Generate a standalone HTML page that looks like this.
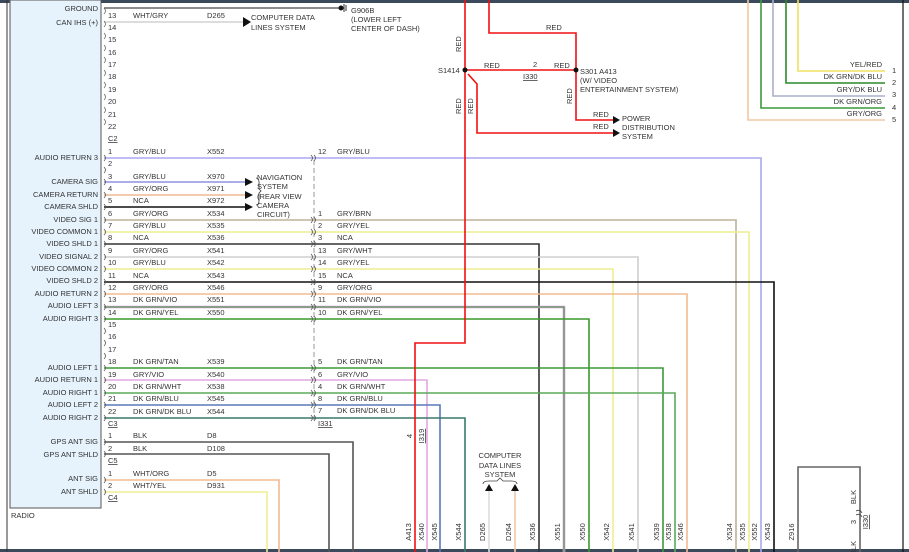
<!DOCTYPE html>
<html><head><meta charset="utf-8"><style>
html,body{margin:0;padding:0;background:#fff;}
svg{display:block;font-family:"Liberation Sans",sans-serif;}
text{font-size:7.5px;fill:#333;}
</style></head><body>
<svg width="909" height="552" viewBox="0 0 909 552" xmlns="http://www.w3.org/2000/svg">
<rect x="0" y="0" width="909" height="3" fill="#3b4a5a"/>
<rect x="0" y="549" width="909" height="3" fill="#3b4a5a"/>
<line x1="7" y1="0" x2="7" y2="552" stroke="#333" stroke-width="1"/>
<line x1="903" y1="0" x2="903" y2="552" stroke="#111" stroke-width="1.2"/>
<rect x="10" y="0" width="91" height="508" fill="#e6f3fc" stroke="#555" stroke-width="1"/>
<text x="11" y="518">RADIO</text>

<g text-anchor="end">
<text x="98" y="11">GROUND</text><text x="98" y="25">CAN IHS (+)</text>
<text x="98" y="160">AUDIO RETURN 3</text>
<text x="98" y="184">CAMERA SIG</text><text x="98" y="197">CAMERA RETURN</text><text x="98" y="209">CAMERA SHLD</text>
<text x="98" y="222">VIDEO SIG 1</text><text x="98" y="234">VIDEO COMMON 1</text><text x="98" y="246">VIDEO SHLD 1</text>
<text x="98" y="259">VIDEO SIGNAL 2</text><text x="98" y="271">VIDEO COMMON 2</text><text x="98" y="283">VIDEO SHLD 2</text>
<text x="98" y="296">AUDIO RETURN 2</text><text x="98" y="308">AUDIO LEFT 3</text><text x="98" y="321">AUDIO RIGHT 3</text>
<text x="98" y="370">AUDIO LEFT 1</text><text x="98" y="382">AUDIO RETURN 1</text><text x="98" y="395">AUDIO RIGHT 1</text>
<text x="98" y="407">AUDIO LEFT 2</text><text x="98" y="420">AUDIO RIGHT 2</text>
<text x="98" y="444">GPS ANT SIG</text><text x="98" y="457">GPS ANT SHLD</text>
<text x="98" y="481">ANT SIG</text><text x="98" y="494">ANT SHLD</text>
</g>

<!-- top C2 -->
<line x1="104" y1="8" x2="340" y2="8" stroke="#666" stroke-width="1.5"/>
<circle cx="341" cy="8" r="2.5" fill="#111"/>
<line x1="344" y1="4" x2="344" y2="12" stroke="#333"/><line x1="346" y1="5" x2="346" y2="11" stroke="#333"/>
<text x="351" y="13">G906B</text><text x="351" y="22">(LOWER LEFT</text><text x="351" y="31">CENTER OF DASH)</text>
<text x="108" y="18">13</text><text x="133" y="18">WHT/GRY</text><text x="207" y="18">D265</text>
<line x1="104" y1="22" x2="245" y2="22" stroke="#ddd" stroke-width="2"/>
<polygon points="243,17 251,22 243,27" fill="#111"/>
<text x="251" y="20">COMPUTER DATA</text><text x="251" y="30">LINES SYSTEM</text>
<g font-size="7.5"><text x="108" y="30">14</text><text x="108" y="42">15</text><text x="108" y="55">16</text><text x="108" y="67">17</text><text x="108" y="79">18</text><text x="108" y="92">19</text><text x="108" y="104">20</text><text x="108" y="117">21</text><text x="108" y="129">22</text></g>
<text x="108" y="141" text-decoration="underline">C2</text>
<g fill="none" stroke="#666" stroke-width="0.8">
<path d="M104,8 q3,3 0,6"/><path d="M104,21 q3,3 0,6"/><path d="M104,33 q3,3 0,6"/><path d="M104,45 q3,3 0,6"/><path d="M104,57 q3,3 0,6"/><path d="M104,70 q3,3 0,6"/><path d="M104,82 q3,3 0,6"/><path d="M104,94 q3,3 0,6"/><path d="M104,107 q3,3 0,6"/><path d="M104,119 q3,3 0,6"/>
</g>

<!-- dashed inline connector -->
<line x1="314" y1="160" x2="314" y2="420" stroke="#999" stroke-dasharray="5,3"/>

<!-- routed wires -->
<g fill="none" stroke-width="1.6">
<path d="M104,158 H761 V552" stroke="#a8a8f0"/>
<path d="M104,182 H245" stroke="#9090e0"/>
<path d="M104,195 H245" stroke="#f0b890"/>
<path d="M104,207 H245" stroke="#111"/>
<path d="M104,220 H736 V552" stroke="#bdb39a"/>
<path d="M104,232 H749 V552" stroke="#eeee90"/>
<path d="M104,244 H539 V552" stroke="#333"/>
<path d="M104,257 H638 V552" stroke="#cfcfcf"/>
<path d="M104,269 H613 V552" stroke="#eeee90"/>
<path d="M104,282 H774 V552" stroke="#111"/>
<path d="M104,294 H687 V552" stroke="#f2bb90"/>
<path d="M104,307 H564 V552" stroke="#d8a0d8" stroke-width="2.6"/>
<path d="M104,307 H564 V552" stroke="#3a9a3a" stroke-width="1"/>
<path d="M104,319 H589 V552" stroke="#3a9a2a"/>
<path d="M104,368 H663 V552" stroke="#3a9a3a"/>
<path d="M104,380 H427 V552" stroke="#e0a8e0"/>
<path d="M104,393 H675 V552" stroke="#5aaa5a"/>
<path d="M104,405 H440 V552" stroke="#5a7ab8"/>
<path d="M104,418 H465 V552" stroke="#3a7a6a"/>
<path d="M104,442 H353 V552" stroke="#555"/>
<path d="M104,454 H329 V552" stroke="#555"/>
<path d="M104,480 H279 V552" stroke="#f2bb90"/>
<path d="M104,492 H267 V552" stroke="#eeee90"/>
<path d="M798,552 V467 H860 V552" stroke="#666"/>
<path d="M489,552 V490" stroke="#ddd"/>
<path d="M515,552 V490" stroke="#f2c8a8"/>
</g>
<polygon points="185,178 193,182 185,186" fill="#111" transform="translate(60,0)"/>
<polygon points="245,191 253,195 245,199" fill="#111"/>
<polygon points="245,203 253,207 245,211" fill="#111"/>
<path d="M256,178 q3,0 3,4 v7 l2,2 l-2,2 v8 q0,4 -3,4" fill="none" stroke="#333" stroke-width="0.8"/>
<text x="257" y="180">NAVIGATION</text><text x="257" y="189">SYSTEM</text><text x="257" y="199">(REAR VIEW</text><text x="257" y="208">CAMERA</text><text x="257" y="217">CIRCUIT)</text>

<!-- pin labels -->
<g>
<text x="108" y="154">1</text><text x="133" y="154">GRY/BLU</text><text x="207" y="154">X552</text>
<text x="108" y="166">2</text>
<text x="108" y="179">3</text><text x="133" y="179">GRY/BLU</text><text x="207" y="179">X970</text>
<text x="108" y="191">4</text><text x="133" y="191">GRY/ORG</text><text x="207" y="191">X971</text>
<text x="108" y="203">5</text><text x="133" y="203">NCA</text><text x="207" y="203">X972</text>
<text x="108" y="216">6</text><text x="133" y="216">GRY/ORG</text><text x="207" y="216">X534</text>
<text x="108" y="228">7</text><text x="133" y="228">GRY/BLU</text><text x="207" y="228">X535</text>
<text x="108" y="240">8</text><text x="133" y="240">NCA</text><text x="207" y="240">X536</text>
<text x="108" y="253">9</text><text x="133" y="253">GRY/ORG</text><text x="207" y="253">X541</text>
<text x="108" y="265">10</text><text x="133" y="265">GRY/BLU</text><text x="207" y="265">X542</text>
<text x="108" y="278">11</text><text x="133" y="278">NCA</text><text x="207" y="278">X543</text>
<text x="108" y="290">12</text><text x="133" y="290">GRY/ORG</text><text x="207" y="290">X546</text>
<text x="108" y="302">13</text><text x="133" y="302">DK GRN/VIO</text><text x="207" y="302">X551</text>
<text x="108" y="315">14</text><text x="133" y="315">DK GRN/YEL</text><text x="207" y="315">X550</text>
<text x="108" y="327">15</text><text x="108" y="339">16</text><text x="108" y="352">17</text>
<text x="108" y="364">18</text><text x="133" y="364">DK GRN/TAN</text><text x="207" y="364">X539</text>
<text x="108" y="377">19</text><text x="133" y="377">GRY/VIO</text><text x="207" y="377">X540</text>
<text x="108" y="389">20</text><text x="133" y="389">DK GRN/WHT</text><text x="207" y="389">X538</text>
<text x="108" y="401">21</text><text x="133" y="401">DK GRN/BLU</text><text x="207" y="401">X545</text>
<text x="108" y="414">22</text><text x="133" y="414">DK GRN/DK BLU</text><text x="207" y="414">X544</text>
<text x="108" y="426" text-decoration="underline">C3</text>
<text x="108" y="438">1</text><text x="133" y="438">BLK</text><text x="207" y="438">D8</text>
<text x="108" y="451">2</text><text x="133" y="451">BLK</text><text x="207" y="451">D108</text>
<text x="108" y="463" text-decoration="underline">C5</text>
<text x="108" y="476">1</text><text x="133" y="476">WHT/ORG</text><text x="207" y="476">D5</text>
<text x="108" y="488">2</text><text x="133" y="488">WHT/YEL</text><text x="207" y="488">D931</text>
<text x="108" y="500" text-decoration="underline">C4</text>
</g>
<g>
<text x="318" y="154">12</text><text x="337" y="154">GRY/BLU</text>
<text x="318" y="216">1</text><text x="337" y="216">GRY/BRN</text>
<text x="318" y="228">2</text><text x="337" y="228">GRY/YEL</text>
<text x="318" y="240">3</text><text x="337" y="240">NCA</text>
<text x="318" y="253">13</text><text x="337" y="253">GRY/WHT</text>
<text x="318" y="265">14</text><text x="337" y="265">GRY/YEL</text>
<text x="318" y="278">15</text><text x="337" y="278">NCA</text>
<text x="318" y="290">9</text><text x="337" y="290">GRY/ORG</text>
<text x="318" y="302">11</text><text x="337" y="302">DK GRN/VIO</text>
<text x="318" y="315">10</text><text x="337" y="315">DK GRN/YEL</text>
<text x="318" y="364">5</text><text x="337" y="364">DK GRN/TAN</text>
<text x="318" y="377">6</text><text x="337" y="377">GRY/VIO</text>
<text x="318" y="389">4</text><text x="337" y="389">DK GRN/WHT</text>
<text x="318" y="401">8</text><text x="337" y="401">DK GRN/BLU</text>
<text x="318" y="413">7</text><text x="337" y="413">DK GRN/DK BLU</text>
<text x="318" y="426" text-decoration="underline">I331</text>
</g>
<g fill="none" stroke="#555" stroke-width="0.8">
<path d="M104,155 q3,3 0,6"/><path d="M104,167 q3,3 0,6"/><path d="M104,179 q3,3 0,6"/><path d="M104,192 q3,3 0,6"/><path d="M104,204 q3,3 0,6"/><path d="M104,217 q3,3 0,6"/><path d="M104,229 q3,3 0,6"/><path d="M104,241 q3,3 0,6"/><path d="M104,254 q3,3 0,6"/><path d="M104,266 q3,3 0,6"/><path d="M104,279 q3,3 0,6"/><path d="M104,291 q3,3 0,6"/><path d="M104,304 q3,3 0,6"/><path d="M104,316 q3,3 0,6"/><path d="M104,328 q3,3 0,6"/><path d="M104,340 q3,3 0,6"/><path d="M104,353 q3,3 0,6"/><path d="M104,365 q3,3 0,6"/><path d="M104,377 q3,3 0,6"/><path d="M104,390 q3,3 0,6"/><path d="M104,402 q3,3 0,6"/><path d="M104,415 q3,3 0,6"/><path d="M104,439 q3,3 0,6"/><path d="M104,451 q3,3 0,6"/><path d="M104,477 q3,3 0,6"/><path d="M104,489 q3,3 0,6"/>
<path d="M311,155 q3,3 0,6 M314,155 q3,3 0,6"/><path d="M311,217 q3,3 0,6 M314,217 q3,3 0,6"/><path d="M311,229 q3,3 0,6 M314,229 q3,3 0,6"/><path d="M311,241 q3,3 0,6 M314,241 q3,3 0,6"/><path d="M311,254 q3,3 0,6 M314,254 q3,3 0,6"/><path d="M311,266 q3,3 0,6 M314,266 q3,3 0,6"/><path d="M311,279 q3,3 0,6 M314,279 q3,3 0,6"/><path d="M311,291 q3,3 0,6 M314,291 q3,3 0,6"/><path d="M311,304 q3,3 0,6 M314,304 q3,3 0,6"/><path d="M311,316 q3,3 0,6 M314,316 q3,3 0,6"/><path d="M311,365 q3,3 0,6 M314,365 q3,3 0,6"/><path d="M311,377 q3,3 0,6 M314,377 q3,3 0,6"/><path d="M311,390 q3,3 0,6 M314,390 q3,3 0,6"/><path d="M311,402 q3,3 0,6 M314,402 q3,3 0,6"/><path d="M311,415 q3,3 0,6 M314,415 q3,3 0,6"/>
</g>

<!-- red power -->
<g fill="none" stroke="#f01010" stroke-width="1.6">
<path d="M465,0 V343 H415 V552"/>
<path d="M489,0 V33 H576 V120 H613"/>
<path d="M465,70 H576"/>
<path d="M468,74 L477,84 V133 H613"/>
</g>
<circle cx="465" cy="70" r="2.5" fill="#111"/><circle cx="576" cy="70" r="2.5" fill="#111"/>
<polygon points="613,116 620,120 613,124" fill="#111"/><polygon points="613,129 620,133 613,137" fill="#111"/>
<text x="438" y="73">S1414</text><text x="546" y="30">RED</text><text x="484" y="68">RED</text><text x="554" y="68">RED</text>
<text x="533" y="67">2</text><text x="523" y="79" text-decoration="underline">I330</text>
<text x="580" y="74">S301 A413</text><text x="580" y="83">(W/ VIDEO</text><text x="580" y="92">ENTERTAINMENT SYSTEM)</text>
<text x="593" y="117">RED</text><text x="593" y="129">RED</text>
<text x="622" y="121">POWER</text><text x="622" y="130">DISTRIBUTION</text><text x="622" y="139">SYSTEM</text>
<g transform="rotate(-90)"><text x="-52" y="461">RED</text><text x="-114" y="461">RED</text><text x="-114" y="473">RED</text><text x="-104" y="572">RED</text></g>
<text x="412" y="436" transform="rotate(-90 412 436)" text-anchor="middle">4</text>
<text x="424" y="436" transform="rotate(-90 424 436)" text-anchor="middle" text-decoration="underline">I319</text>

<!-- top right wires -->
<g fill="none" stroke-width="1.6">
<path d="M798,0 V71 H885" stroke="#f0e060"/>
<path d="M786,0 V83 H885" stroke="#2a8a2a"/>
<path d="M773,0 V96 H885" stroke="#a8b0c8"/>
<path d="M761,0 V108 H885" stroke="#3a9a3a"/>
<path d="M748,0 V120 H885" stroke="#f0c8a0"/>
</g>
<g text-anchor="end"><text x="882" y="67">YEL/RED</text><text x="882" y="79">DK GRN/DK BLU</text><text x="882" y="92">GRY/DK BLU</text><text x="882" y="104">DK GRN/ORG</text><text x="882" y="116">GRY/ORG</text></g>
<text x="892" y="73">1</text><text x="892" y="85">2</text><text x="892" y="97">3</text><text x="892" y="110">4</text><text x="892" y="122">5</text>

<!-- computer data lines -->
<text x="500" y="458" text-anchor="middle">COMPUTER</text><text x="500" y="468" text-anchor="middle">DATA LINES</text><text x="500" y="477" text-anchor="middle">SYSTEM</text>
<path d="M483,484 q0,-3 6,-3 h8 l3,-3 l3,3 h8 q6,0 6,3" fill="none" stroke="#444" stroke-width="0.8"/>
<polygon points="485,491 489,484 493,491" fill="#111"/><polygon points="511,491 515,484 519,491" fill="#111"/>

<!-- bottom labels -->
<g font-size="7">
<text transform="translate(411,532) rotate(-90)" text-anchor="middle">A413</text>
<text transform="translate(424,532) rotate(-90)" text-anchor="middle">X540</text>
<text transform="translate(437,532) rotate(-90)" text-anchor="middle">X545</text>
<text transform="translate(461,532) rotate(-90)" text-anchor="middle">X544</text>
<text transform="translate(485,532) rotate(-90)" text-anchor="middle">D265</text>
<text transform="translate(511,532) rotate(-90)" text-anchor="middle">D264</text>
<text transform="translate(535,532) rotate(-90)" text-anchor="middle">X536</text>
<text transform="translate(560,532) rotate(-90)" text-anchor="middle">X551</text>
<text transform="translate(585,532) rotate(-90)" text-anchor="middle">X550</text>
<text transform="translate(609,532) rotate(-90)" text-anchor="middle">X542</text>
<text transform="translate(634,532) rotate(-90)" text-anchor="middle">X541</text>
<text transform="translate(659,532) rotate(-90)" text-anchor="middle">X539</text>
<text transform="translate(671,532) rotate(-90)" text-anchor="middle">X538</text>
<text transform="translate(683,532) rotate(-90)" text-anchor="middle">X546</text>
<text transform="translate(732,532) rotate(-90)" text-anchor="middle">X534</text>
<text transform="translate(745,532) rotate(-90)" text-anchor="middle">X535</text>
<text transform="translate(757,532) rotate(-90)" text-anchor="middle">X552</text>
<text transform="translate(770,532) rotate(-90)" text-anchor="middle">X543</text>
<text transform="translate(794,532) rotate(-90)" text-anchor="middle">Z916</text>
<text transform="translate(856,497) rotate(-90)" text-anchor="middle">BLK</text>
<text transform="translate(856,522) rotate(-90)" text-anchor="middle">3</text>
<text transform="translate(868,522) rotate(-90)" text-anchor="middle" text-decoration="underline">I330</text>
<text transform="translate(856,548) rotate(-90)" text-anchor="middle">BLK</text>
</g>
<path d="M856,511 q4,-2 6,2 M856,515 q4,-2 6,2" fill="none" stroke="#444" stroke-width="0.8"/>
</svg>
</body></html>
